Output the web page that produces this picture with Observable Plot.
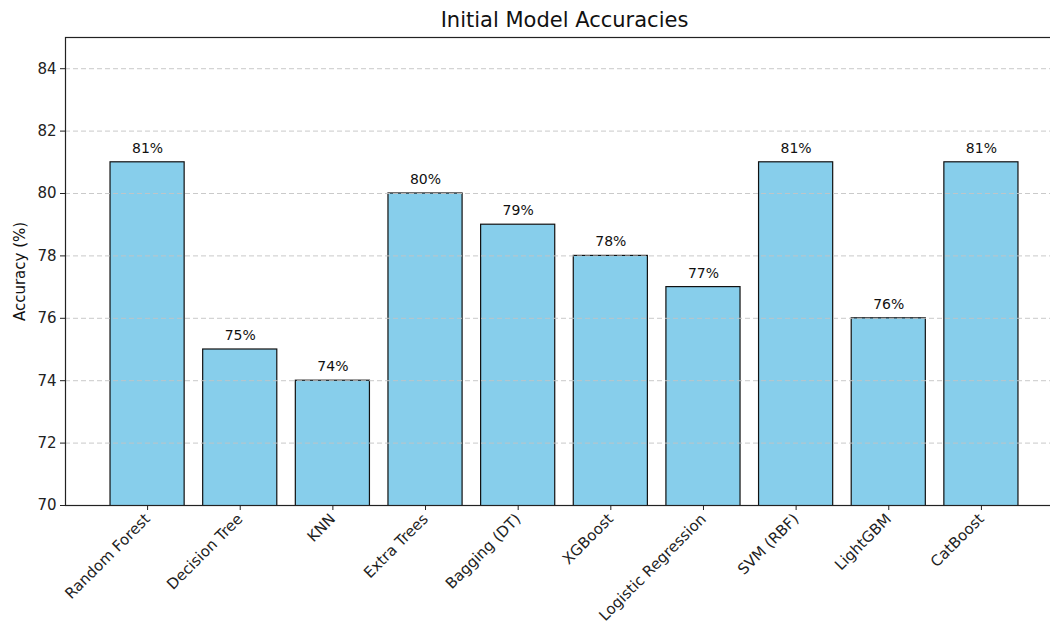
<!DOCTYPE html>
<html>
<head>
<meta charset="utf-8">
<script src="https://cdn.jsdelivr.net/npm/d3@7"></script>
<script src="https://cdn.jsdelivr.net/npm/@observablehq/plot@0.6"></script>
<style>
  html, body { margin: 0; padding: 0; background: #fff; }
  #chart svg { display: block; font-family: "DejaVu Sans", sans-serif; }
</style>
</head>
<body>
<div id="chart"></div>
<script>
// Model names and their initial accuracy (%)
const models = ["Random Forest", "Decision Tree", "KNN", "Extra Trees", "Bagging (DT)",
                "XGBoost", "Logistic Regression", "SVM (RBF)", "LightGBM", "CatBoost"];
const accuracy = [81, 75, 74, 80, 79, 78, 77, 81, 76, 81];
const yTicks = [70, 72, 74, 76, 78, 80, 82, 84];

const data = models.map((m, i) => ({model: m, acc: accuracy[i]}));

const chart = Plot.plot({
  width: 1050,
  height: 625,
  marginLeft: 65,
  marginRight: -13,
  marginTop: 37,
  marginBottom: 120,
  style: {fontFamily: "DejaVu Sans, sans-serif", fontSize: "14px", color: "#222", background: "#fff"},
  x: {domain: models, paddingInner: 0.2, paddingOuter: 0.486, round: false, label: null},
  y: {domain: [70, 85], label: null},
  marks: [
    Plot.barY(data, {x: "model", y: "acc", fill: "#87CEEB", stroke: "#111", strokeWidth: 1.2, clip: true}),
    Plot.gridY(yTicks, {stroke: "#c4c4c4", strokeOpacity: 0.9, strokeDasharray: "5,3", strokeWidth: 1}),
    Plot.text(data, {x: "model", y: "acc", text: d => `${d.acc}%`, dy: -14, fontSize: 14, fill: "#111"}),
    Plot.axisY(yTicks, {tickSize: 5, tickPadding: 4, fontSize: 15, label: null, stroke: "#222"}),
    Plot.axisX({tickSize: 5, tickPadding: 6, tickRotate: -45, fontSize: 15, label: null, stroke: "#222"}),
    Plot.frame({stroke: "#222", strokeWidth: 1.2}),
    Plot.text(["Accuracy (%)"], {frameAnchor: "left", textAnchor: "middle", lineAnchor: "middle", dx: -45, rotate: -90, fontSize: 15, fill: "#111"}),
    Plot.text(["Initial Model Accuracies"], {frameAnchor: "top", lineAnchor: "middle", dy: -17, fontSize: 21, fill: "#111"})
  ]
});

document.getElementById("chart").append(chart);
</script>
</body>
</html>
